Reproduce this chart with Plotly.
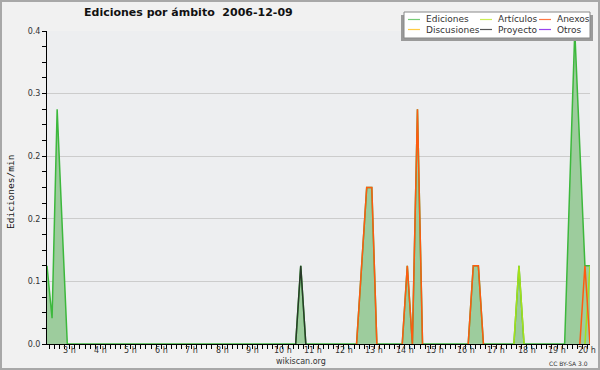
import plotly.graph_objects as go

# ---------------- data ----------------
ed_times = ["02:15", "02:25", "02:35", "02:45", "02:55",
            "10:25", "10:35", "10:45",
            "12:25", "12:35", "12:45", "12:55", "13:05",
            "13:55", "14:05", "14:15", "14:25", "14:35",
            "16:05", "16:15", "16:25", "16:35",
            "17:35", "17:45", "17:55",
            "19:15", "19:25", "19:35", "19:45", "19:55", "20:05"]
ed_vals = [0.1, 0.033, 0.3, 0.15, 0.0,
           0.0, 0.1, 0.0,
           0.0, 0.1, 0.2, 0.2, 0.0,
           0.0, 0.1, 0.0, 0.3, 0.0,
           0.0, 0.1, 0.1, 0.0,
           0.0, 0.1, 0.0,
           0.0, 0.2, 0.4, 0.25, 0.1, 0.1]

anexos_times = ["12:25", "12:35", "12:45", "12:55", "13:05", None,
                "13:55", "14:05", "14:15", "14:25", "14:35", None,
                "16:05", "16:15", "16:25", "16:35", None,
                "19:45", "19:55", "20:05"]
anexos_vals = [0.0, 0.1, 0.2, 0.2, 0.0, None,
               0.0, 0.1, 0.0, 0.3, 0.0, None,
               0.0, 0.1, 0.1, 0.0, None,
               0.0, 0.1, 0.0]

art_times = ["17:35", "17:45", "17:55", None, "19:55", "20:05"]
art_vals = [0.0, 0.1, 0.0, None, 0.0, 0.1]

proy_times = ["10:25", "10:35", "10:45"]
proy_vals = [0.0, 0.1, 0.0]

hour_ticks = list(range(3, 21))
hour_labels = [f"{h} h" for h in hour_ticks]
y_tickvals = [0.0, 0.08, 0.16, 0.24, 0.32, 0.4]
y_ticktext = ["0.0", "0.1", "0.2", "0.2", "0.3", "0.4"]

legend_names = ["Ediciones", "Artículos", "Anexos", "Discusiones", "Proyecto", "Otros"]
legend_colors = ["#77cc77", "#ccee55", "#ff7744", "#ffcc44", "#555555", "#9944ee"]


def to_h(t):
    if t is None:
        return None
    hh, mm = t.split(":")
    return int(hh) + int(mm) / 60.0


# ---------------- figure ----------------
W, H = 600, 370
ML, MR, MT, MB = 47, 10, 31, 26
PW, PH = W - ML - MR, H - MT - MB


def px(x):
    return (x - ML) / PW


def py(y):
    return (H - MB - y) / PH


fig = go.Figure()

fig.add_trace(go.Scatter(
    x=[to_h(t) for t in ed_times], y=ed_vals, mode="lines",
    line=dict(color="#3cb83c", width=1.5), fill="tozeroy",
    fillcolor="#9dcc9d", showlegend=False, hoverinfo="skip"))
fig.add_trace(go.Scatter(
    x=[to_h(t) for t in art_times], y=art_vals, mode="lines",
    line=dict(color="#a6e01a", width=1.5), showlegend=False,
    connectgaps=False, hoverinfo="skip"))
fig.add_trace(go.Scatter(
    x=[to_h(t) for t in anexos_times], y=anexos_vals, mode="lines",
    line=dict(color="#ff5a10", width=1.5), showlegend=False,
    connectgaps=False, hoverinfo="skip"))
fig.add_trace(go.Scatter(
    x=[to_h(t) for t in proy_times], y=proy_vals, mode="lines",
    line=dict(color="#2a3a2a", width=1.5), showlegend=False,
    hoverinfo="skip"))

font_main = "DejaVu Sans"

fig.update_layout(
    width=W, height=H,
    margin=dict(l=ML, r=MR, t=MT, b=MB, pad=0),
    paper_bgcolor="#f1f1f1", plot_bgcolor="#edeef0",
    showlegend=False,
    xaxis=dict(
        range=[to_h("02:15"), to_h("02:15") + 107 / 6],
        tickmode="array", tickvals=hour_ticks, ticktext=hour_labels,
        showticklabels=False,
        ticks="outside", ticklen=4, tickwidth=1, tickcolor="#000",
        showgrid=False, zeroline=False,
        showline=True, linecolor="#000", linewidth=1,
        minor=dict(tick0=0, dtick=1 / 6, ticks="outside", ticklen=4,
                   tickcolor="#000", showgrid=False),
        fixedrange=True,
    ),
    yaxis=dict(
        range=[0, 0.4],
        tickmode="array", tickvals=y_tickvals, ticktext=y_ticktext,
        ticks="outside", ticklen=4, tickwidth=1, tickcolor="#000",
        showgrid=True, gridcolor="#cccccc", gridwidth=1,
        zeroline=False,
        showline=True, linecolor="#000", linewidth=1,
        tickfont=dict(family=font_main, size=8, color="#333"),
        minor=dict(dtick=0.02, tick0=0, ticks="outside", ticklen=4,
                   tickcolor="#000", showgrid=False),
        fixedrange=True,
    ),
)

shapes = []
annotations = []

# x tick labels placed just under the axis
for h, lab in zip(hour_ticks, hour_labels):
    annotations.append(dict(
        text=lab, xref="x", yref="paper", x=h, y=py(350),
        xanchor="center", yanchor="middle", showarrow=False,
        font=dict(family=font_main, size=8, color="#333")))

# outer frame
shapes.append(dict(type="rect", xref="paper", yref="paper",
                   x0=px(1), x1=px(W - 1), y0=py(1), y1=py(H - 1),
                   line=dict(color="#a8a8a8", width=2), layer="above"))

# title
annotations.append(dict(
    text="<b>Ediciones por ámbito\u00a0\u00a02006-12-09</b>",
    xref="paper", yref="paper", x=px(188), y=py(13),
    xanchor="center", yanchor="middle", showarrow=False,
    font=dict(family=font_main, size=11, color="#111")))

# y-axis title
annotations.append(dict(
    text="Ediciones/min", xref="paper", yref="paper",
    x=px(10), y=py(192), xanchor="center", yanchor="middle",
    textangle=-90, showarrow=False,
    font=dict(family="DejaVu Sans Mono", size=9.5, color="#111")))

# footer
annotations.append(dict(
    text="wikiscan.org", xref="paper", yref="paper",
    x=px(301), y=py(361.5), xanchor="center", yanchor="middle",
    showarrow=False, font=dict(family=font_main, size=8, color="#333")))
annotations.append(dict(
    text="CC BY-SA 3.0", xref="paper", yref="paper",
    x=px(590), y=py(363), xanchor="right", yanchor="middle",
    showarrow=False, font=dict(family=font_main, size=6, color="#333")))

# legend box with shadow
shapes.append(dict(type="rect", xref="paper", yref="paper",
                   x0=px(401), x1=px(593), y0=py(15), y1=py(41),
                   line=dict(width=0), fillcolor="#9a9a9a", layer="above"))
shapes.append(dict(type="rect", xref="paper", yref="paper",
                   x0=px(404), x1=px(590), y0=py(12), y1=py(38),
                   line=dict(color="#888888", width=1), fillcolor="#ffffff",
                   layer="above"))

col_x = [408, 480, 539]
row_y = [19.5, 29.5]
for i, (name, col) in enumerate(zip(legend_names, legend_colors)):
    r, c = divmod(i, 3)
    x0 = col_x[c]
    yy = row_y[r]
    shapes.append(dict(type="line", xref="paper", yref="paper",
                       x0=px(x0), x1=px(x0 + 12), y0=py(yy), y1=py(yy),
                       line=dict(color=col, width=1.2), layer="above"))
    annotations.append(dict(
        text=name, xref="paper", yref="paper",
        x=px(x0 + 16), y=py(yy), xanchor="left", yanchor="middle",
        showarrow=False, font=dict(family=font_main, size=9, color="#333")))

fig.update_layout(shapes=shapes, annotations=annotations)

fig.write_html("out.html")
